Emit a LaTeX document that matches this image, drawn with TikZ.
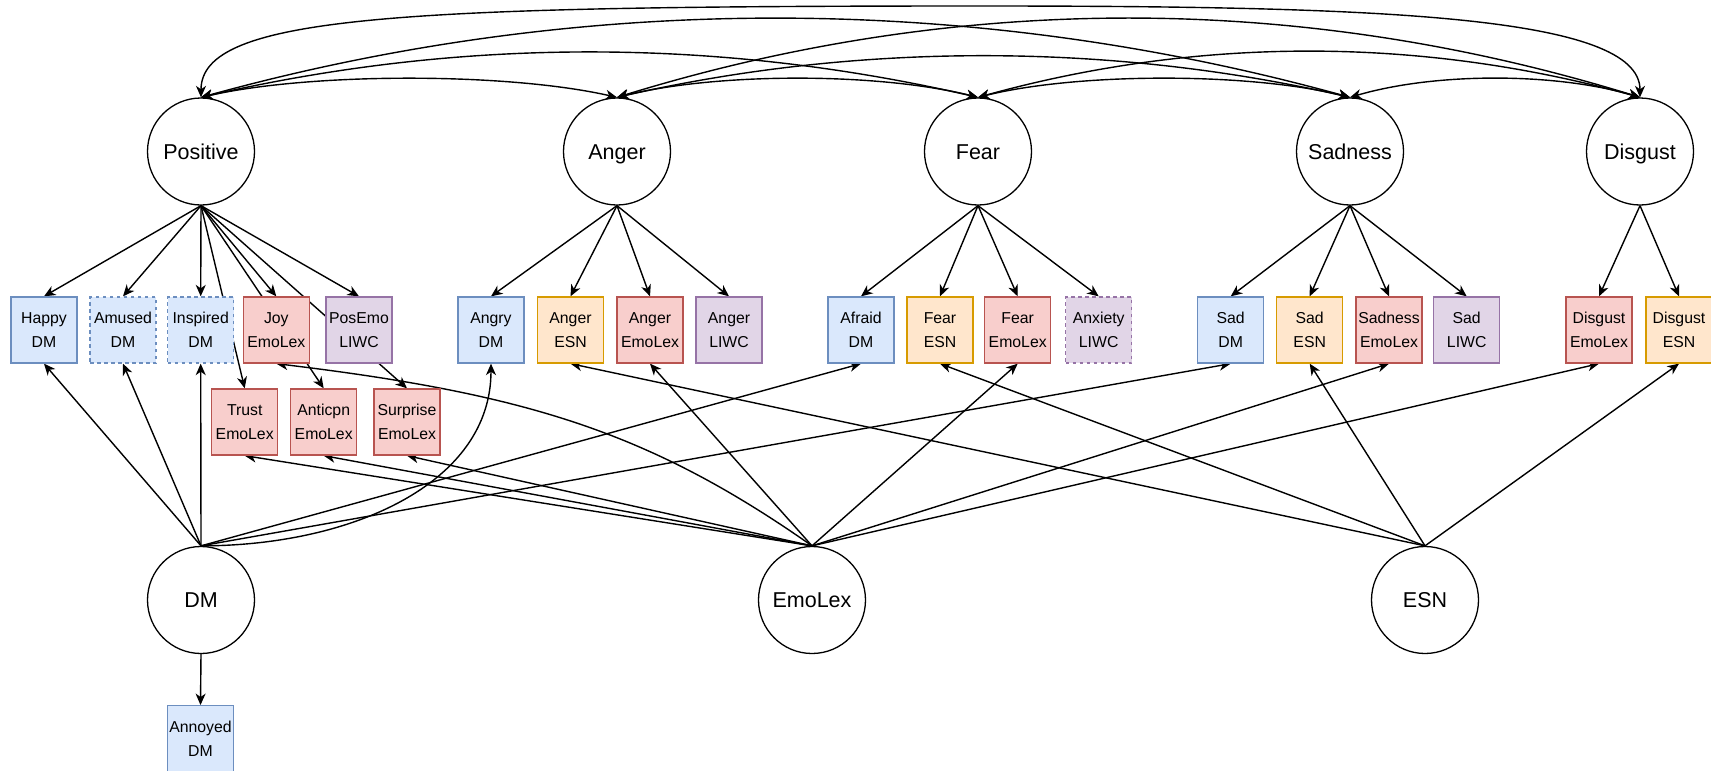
\documentclass[tikz,border=0pt]{standalone}
\usepackage{fontspec}
\setmainfont{Liberation Sans}
\usetikzlibrary{arrows.meta}
\definecolor{dmfill}{HTML}{DAE8FC}
\definecolor{dmline}{HTML}{6C8EBF}
\definecolor{esnfill}{HTML}{FFE6CC}
\definecolor{esnline}{HTML}{D79B00}
\definecolor{lexfill}{HTML}{F8CECC}
\definecolor{lexline}{HTML}{B85450}
\definecolor{liwcfill}{HTML}{E1D5E7}
\definecolor{liwcline}{HTML}{9673A6}
\pgfdeclarelayer{edges}
\pgfsetlayers{edges,main}
\tikzset{
	latent/.style={circle,draw,line width=1.3pt,minimum size=107pt,inner sep=0pt,text height=15.5pt,text depth=0pt,font=\fontsize{21.5}{26}\selectfont},
	box/.style 2 args={rectangle,draw=#2,fill=#1,line width=1.3pt,minimum size=66pt,inner sep=0pt,align=center,font=\fontsize{15.8}{24}\selectfont},
	dmbox/.style={box={dmfill}{dmline}},
	esnbox/.style={box={esnfill}{esnline}},
	lexbox/.style={box={lexfill}{lexline}},
	liwcbox/.style={box={liwcfill}{liwcline}},
	unsure/.style={dash pattern=on 3.5pt off 3.5pt},
	load/.style={-{Stealth[length=11.5pt,width=10pt,inset=3.5pt]},line width=1.4pt},
	cov/.style={{Stealth[length=11.5pt,width=10pt,inset=3.5pt]}-{Stealth[length=11.5pt,width=10pt,inset=3.5pt]},line width=1.4pt}
}

\begin{document}
\begin{tikzpicture}[x=1pt,y=1pt]
					\useasboundingbox (0, 0) rectangle (1711, -771);
					\node [latent] (pos) at (201, -151.5) {Positive};
					\node [latent] (ang) at (617, -151.5) {Anger};
					\node [latent] (fea) at (978, -151.5) {Fear};
					\node [latent] (sad) at (1350, -151.5) {Sadness};
					\node [latent] (dis) at (1640, -151.5) {Disgust};
					\node [latent] (dm) at (201, -600) {DM};
					\node [latent] (lex) at (812, -600) {EmoLex};
					\node [latent] (esn) at (1425, -600) {ESN};

					\node [dmbox] (happy) at (44, -330) {Happy\\DM};
					\node [dmbox,unsure] (amused) at (123, -330) {Amused\\DM};
					\node [dmbox,unsure] (inspired) at (200.7, -330) {Inspired\\DM};
					\node [lexbox] (joy) at (276.3, -330) {Joy\\EmoLex};
					\node [liwcbox] (posemo) at (359, -330) {PosEmo\\LIWC};
					\node [lexbox] (trust) at (244.7, -422) {Trust\\EmoLex};
					\node [lexbox] (anticpn) at (323.7, -422) {Anticpn\\EmoLex};
					\node [lexbox] (surprise) at (407, -422) {Surprise\\EmoLex};
					\node [dmbox] (angry) at (491, -330) {Angry\\DM};
					\node [esnbox] (angesn) at (570.5, -330) {Anger\\ESN};
					\node [lexbox] (anglex) at (650, -330) {Anger\\EmoLex};
					\node [liwcbox] (angliwc) at (729, -330) {Anger\\LIWC};
					\node [dmbox] (afraid) at (861, -330) {Afraid\\DM};
					\node [esnbox] (feaesn) at (940, -330) {Fear\\ESN};
					\node [lexbox] (fealex) at (1017.7, -330) {Fear\\EmoLex};
					\node [liwcbox,unsure] (anxiety) at (1098.7, -330) {Anxiety\\LIWC};
					\node [dmbox] (saddm) at (1230.7, -330) {Sad\\DM};
					\node [esnbox] (sadesn) at (1309.7, -330) {Sad\\ESN};
					\node [lexbox] (sadlex) at (1389, -330) {Sadness\\EmoLex};
					\node [liwcbox] (sadliwc) at (1466.7, -330) {Sad\\LIWC};
					\node [lexbox] (dislex) at (1599, -330) {Disgust\\EmoLex};
					\node [esnbox] (disesn) at (1679, -330) {Disgust\\ESN};
					\node [dmbox] (annoyed) at (200.5, -738.7) {Annoyed\\DM};
					\coordinate (pdtop) at (980, -6);

					\begin{pgfonlayer}{edges}
					\fill [white] (0, 0) rectangle (1711, -771);
					\draw [load] (pos.south) -- (happy.north);
					\draw [load] (pos.south) -- (amused.north);
					\draw [load] (pos.south) -- (inspired.north);
					\draw [load] (pos.south) -- (joy.north);
					\draw [load] (pos.south) -- (posemo.north);
					\draw [load] (pos.south) -- (trust.north);
					\draw [load] (pos.south) -- (anticpn.north);
					\draw [load] (pos.south) -- (surprise.north);
					\draw [load] (ang.south) -- (angry.north);
					\draw [load] (ang.south) -- (angesn.north);
					\draw [load] (ang.south) -- (anglex.north);
					\draw [load] (ang.south) -- (angliwc.north);
					\draw [load] (fea.south) -- (afraid.north);
					\draw [load] (fea.south) -- (feaesn.north);
					\draw [load] (fea.south) -- (fealex.north);
					\draw [load] (fea.south) -- (anxiety.north);
					\draw [load] (sad.south) -- (saddm.north);
					\draw [load] (sad.south) -- (sadesn.north);
					\draw [load] (sad.south) -- (sadlex.north);
					\draw [load] (sad.south) -- (sadliwc.north);
					\draw [load] (dis.south) -- (dislex.north);
					\draw [load] (dis.south) -- (disesn.north);

					\draw [load] (dm.north) -- (happy.south);
					\draw [load] (dm.north) -- (amused.south);
					\draw [load] (dm.north) -- (inspired.south);
					\draw [load] (dm.north) .. controls +(150, 0) and +(0, -120) .. (angry.south);
					\draw [load] (dm.north) -- (afraid.south);
					\draw [load] (dm.north) -- (saddm.south);
					\draw [load] (dm.south) -- (annoyed.north);

					\draw [load] (lex.north) .. controls +(-164, 115) and +(248, -30) .. (joy.south);
					\draw [load] (lex.north) -- (trust.south);
					\draw [load] (lex.north) -- (anticpn.south);
					\draw [load] (lex.north) -- (surprise.south);
					\draw [load] (lex.north) -- (anglex.south);
					\draw [load] (lex.north) -- (fealex.south);
					\draw [load] (lex.north) -- (sadlex.south);
					\draw [load] (lex.north) -- (dislex.south);

					\draw [load] (esn.north) -- (angesn.south);
					\draw [load] (esn.north) -- (feaesn.south);
					\draw [load] (esn.north) -- (sadesn.south);
					\draw [load] (esn.north) -- (disesn.south);

					\draw [cov] (pos.north) .. controls +(110, 25) and +(-110, 25) .. (ang.north);
					\draw [cov] (pos.north) .. controls +(260, 60) and +(-260, 60) .. (fea.north);
					\draw [cov] (pos.north) .. controls +(380, 105) and +(-380, 105) .. (sad.north);
					\draw [cov] (pos.north) .. controls +(0, 82) and +(-580, 0) .. (pdtop) .. controls +(400, 0) and +(0, 82) .. (dis.north);
					\draw [cov] (ang.north) .. controls +(100, 25) and +(-100, 25) .. (fea.north);
					\draw [cov] (ang.north) .. controls +(240, 55) and +(-240, 55) .. (sad.north);
					\draw [cov] (ang.north) .. controls +(340, 105) and +(-340, 105) .. (dis.north);
					\draw [cov] (fea.north) .. controls +(100, 25) and +(-100, 25) .. (sad.north);
					\draw [cov] (fea.north) .. controls +(220, 61) and +(-220, 61) .. (dis.north);
					\draw [cov] (sad.north) .. controls +(85, 25) and +(-85, 25) .. (dis.north);
					\end{pgfonlayer}
				\end{tikzpicture}
\end{document}
